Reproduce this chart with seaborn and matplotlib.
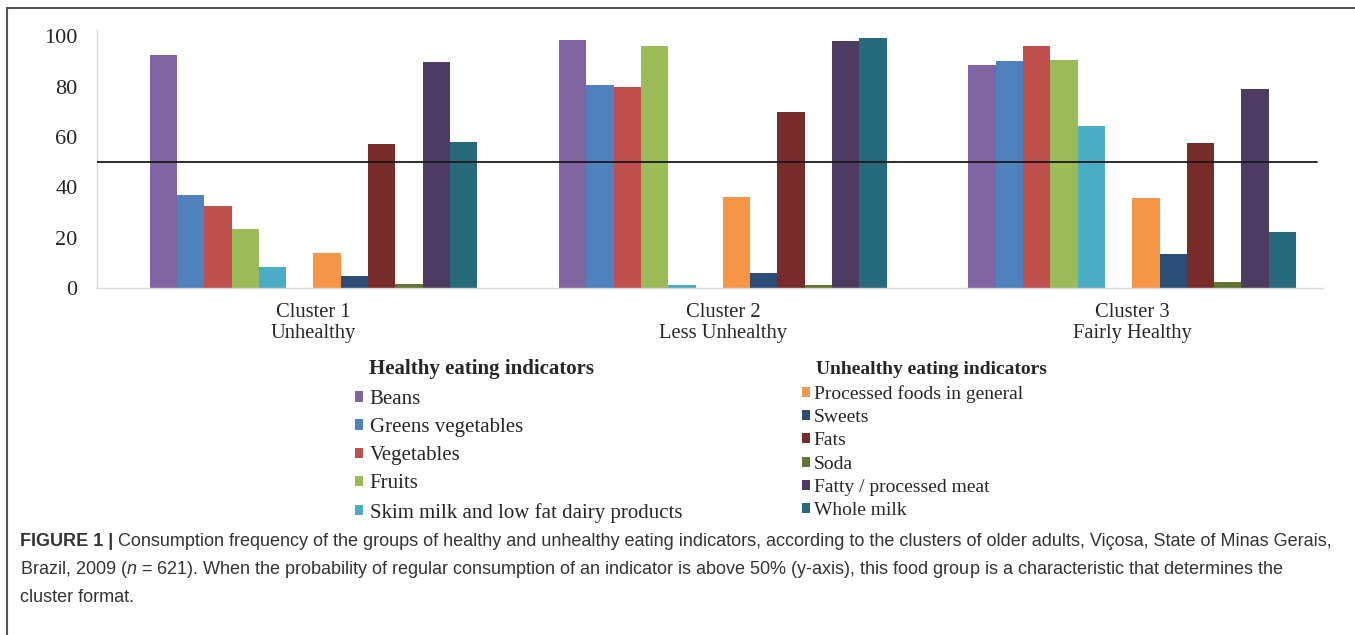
import matplotlib
matplotlib.use("Agg")
import matplotlib.pyplot as plt
from matplotlib.lines import Line2D
from matplotlib.patches import Patch
import pandas as pd
import seaborn as sns

# Categories
clusters = ["Cluster 1\nUnhealthy", "Cluster 2\nLess Unhealthy", "Cluster 3\nFairly Healthy"]
healthy = ["Beans", "Greens vegetables", "Vegetables", "Fruits",
           "Skim milk and low fat dairy products"]
unhealthy = ["Processed foods in general", "Sweets", "Fats", "Soda",
             "Fatty / processed meat", "Whole milk"]

# Probability of regular consumption (%)
c1_healthy = [92.4, 37.1, 32.7, 23.6, 8.2]
c1_unhealthy = [13.9, 4.6, 57.4, 1.7, 89.9, 57.9]
c2_healthy = [98.7, 80.8, 79.8, 96.1, 1.1]
c2_unhealthy = [36.3, 5.8, 69.8, 1.1, 98.1, 99.3]
c3_healthy = [88.5, 90.3, 96.1, 90.7, 64.4]
c3_unhealthy = [35.8, 13.4, 57.7, 2.3, 79.0, 22.1]

healthy_colors = ["#8064A2", "#4F81BD", "#C0504D", "#9BBB59", "#4BACC6"]
unhealthy_colors = ["#F79646", "#2C4D75", "#772C2A", "#5F7530", "#4D3B62", "#276A7C"]

cut_off = 50

rows = []
for cl, hv, uv in zip(clusters, [c1_healthy, c2_healthy, c3_healthy],
                      [c1_unhealthy, c2_unhealthy, c3_unhealthy]):
    for name, v in zip(healthy, hv):
        rows.append((cl, name, v))
    for name, v in zip(unhealthy, uv):
        rows.append((cl, name, v))
df = pd.DataFrame(rows, columns=["cluster", "indicator", "value"])

# empty slot between the two indicator groups
hue_order = healthy + ["_gap"] + unhealthy
palette = dict(zip(healthy, healthy_colors))
palette.update(dict(zip(unhealthy, unhealthy_colors)))
palette["_gap"] = "white"

sns.set_style("white")
plt.rcParams["font.family"] = ["Liberation Serif", "DejaVu Serif"]
plt.rcParams["mathtext.fontset"] = "custom"
plt.rcParams["mathtext.it"] = "Liberation Sans:italic"
plt.rcParams["mathtext.rm"] = "Liberation Sans"

W, H = 1355, 635
fig = plt.figure(figsize=(W / 100, H / 100), dpi=100)
ax = fig.add_axes([97 / W, 1 - 288 / H, 1226 / W, 258 / H])

sns.barplot(data=df, x="cluster", y="value", hue="indicator", order=clusters,
            hue_order=hue_order, palette=palette, width=0.8, gap=0,
            saturation=1, errorbar=None, linewidth=0, legend=False, ax=ax)

ax.axhline(cut_off, xmin=0, xmax=0.995, color="#1a1a1a", lw=1.3, zorder=5)

ax.set_xlim(-0.5287, 2.466)
ax.set_ylim(0, 102.5)
ax.set_yticks(range(0, 101, 20))
ax.set_xlabel("")
ax.set_ylabel("")
ax.tick_params(axis="y", length=0, pad=14, labelsize=16)
ax.tick_params(axis="x", which="major", length=0, pad=11, labelsize=14.8)
ax.set_xticks([0.5, 1.5], minor=True)
ax.tick_params(axis="x", which="minor", length=32, width=1, color="#d9d9d9",
               direction="out")
for lbl in ax.get_xticklabels():
    lbl.set_linespacing(1.12)
for s in ["top", "right"]:
    ax.spines[s].set_visible(False)
for s in ["left", "bottom"]:
    ax.spines[s].set_color("#d9d9d9")
    ax.spines[s].set_linewidth(1)

# legends: two columns with bold headers
h1 = [Patch(facecolor=c, edgecolor="none") for c in healthy_colors]
fig.legend(h1, healthy, loc="upper left", bbox_to_anchor=(355 / W, 1 - 390 / H),
           frameon=False, fontsize=15, handlelength=0.4, handleheight=0.4,
           handletextpad=0.3, labelspacing=0.44, borderpad=0, borderaxespad=0)
fig.text(369 / W, 1 - 369 / H, "Healthy eating indicators", fontweight="bold",
         fontsize=15, va="center", ha="left")

h2 = [Patch(facecolor=c, edgecolor="none") for c in unhealthy_colors]
fig.legend(h2, unhealthy, loc="upper left", bbox_to_anchor=(802 / W, 1 - 385 / H),
           frameon=False, fontsize=14, handlelength=0.4, handleheight=0.4,
           handletextpad=0.2, labelspacing=0.32, borderpad=0, borderaxespad=0)
fig.text(816 / W, 1 - 369 / H, "Unhealthy eating indicators", fontweight="bold",
         fontsize=14, va="center", ha="left")

# partial frame (top and left)
fig.add_artist(Line2D([7 / W, 1], [1 - 8 / H] * 2, transform=fig.transFigure,
                      color="#555555", lw=1.5))
fig.add_artist(Line2D([7 / W] * 2, [0, 1 - 8 / H], transform=fig.transFigure,
                      color="#555555", lw=1.5))

# caption
cap = dict(fontsize=13, family="Liberation Sans", color="#333333", va="center")
t1 = fig.text(20 / W, 1 - 541 / H, "FIGURE 1 |", fontweight="bold", **cap)
ax.annotate(" Consumption frequency of the groups of healthy and unhealthy eating "
            "indicators, according to the clusters of older adults, Viçosa, State of Minas Gerais,",
            xy=(1, 0.5), xycoords=t1, ha="left", annotation_clip=False, **cap)
fig.text(20 / W, 1 - 569 / H,
         "Brazil, 2009 ($n$ = 621). When the probability of regular consumption of an "
         "indicator is above 50% (y-axis), this food group is a characteristic that determines the",
         **cap)
fig.text(20 / W, 1 - 597 / H, "cluster format.", **cap)

fig.savefig("out.png", dpi=100)
